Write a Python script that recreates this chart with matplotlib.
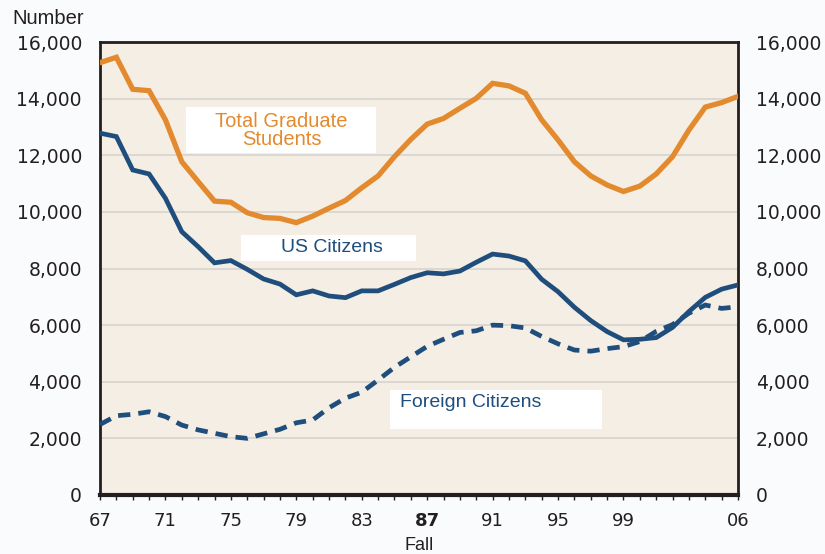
import matplotlib
matplotlib.use("Agg")
import matplotlib.pyplot as plt
from matplotlib.patches import Rectangle

# Fall enrollment, 1967-2006
years = list(range(1967, 2007))

total_students = [
    15270, 15460, 14330, 14280, 13250, 11770, 11070, 10380, 10340, 9970,
    9800, 9770, 9620, 9850, 10130, 10400, 10850, 11270, 11950, 12560,
    13100, 13300, 13660, 14010, 14540, 14450, 14190, 13250, 12540, 11770,
    11270, 10950, 10720, 10910, 11340, 11950, 12890, 13700, 13860, 14080,
]

us_citizens = [
    12780, 12660, 11480, 11340, 10480, 9300, 8770, 8200, 8280, 7970,
    7630, 7450, 7070, 7210, 7030, 6970, 7210, 7210, 7440, 7680,
    7850, 7810, 7910, 8220, 8510, 8440, 8270, 7620, 7180, 6630,
    6160, 5770, 5480, 5500, 5560, 5920, 6480, 6980, 7270, 7420,
]

foreign_citizens = [
    2490, 2800, 2850, 2940, 2770, 2470, 2300, 2180, 2060, 2000,
    2160, 2320, 2550, 2650, 3080, 3420, 3630, 4060, 4510, 4880,
    5250, 5500, 5740, 5800, 6000, 5980, 5900, 5600, 5340, 5120,
    5080, 5170, 5240, 5420, 5780, 6020, 6420, 6710, 6590, 6650,
]

label_years = [1967, 1971, 1975, 1979, 1983, 1987, 1991, 1995, 1999, 2006]
y_ticks = [0, 2000, 4000, 6000, 8000, 10000, 12000, 14000, 16000]

orange = "#E38A2E"
blue = "#1F4E7D"
ink = "#231F20"

plt.rcParams["font.family"] = ["Liberation Sans", "DejaVu Sans"]

fig = plt.figure(figsize=(8.25, 5.54), dpi=100, facecolor="#FAFBFD")
ax = fig.add_axes([100 / 825, 1 - 495 / 554, 638 / 825, 453 / 554])
ax.set_facecolor("#F5EEE4")

ax.set_xlim(years[0], years[-1])
ax.set_ylim(0, 16000)

for v in y_ticks[:-1]:
    ax.axhline(v, color="#D9D6D1", lw=1.3, zorder=1)

ax.plot(years, total_students, color=orange, lw=3.8, zorder=3,
        solid_joinstyle="miter")
ax.plot(years, us_citizens, color=blue, lw=3.4, zorder=3,
        solid_joinstyle="miter")
ax.plot(years, foreign_citizens, color=blue, lw=3.4, zorder=3,
        ls=(0, (2.6, 1.7)))

# series labels in white boxes
ax.add_patch(Rectangle((1972.25, 12080), 11.65, 1620, facecolor="white",
                       edgecolor="none", zorder=2))
ax.text(1978.1, 12870, "Total Graduate\nStudents", color=orange, fontsize=14.5,
        ha="center", va="center", multialignment="center",
        linespacing=0.95, zorder=4)

ax.add_patch(Rectangle((1975.6, 8270), 10.7, 910, facecolor="white",
                       edgecolor="none", zorder=2))
ax.text(1981.2, 8740, "US Citizens", color=blue, fontsize=14,
        ha="center", va="center", zorder=4)

ax.add_patch(Rectangle((1984.7, 2330), 13.0, 1380, facecolor="white",
                       edgecolor="none", zorder=2))
ax.text(1985.35, 3250, "Foreign Citizens", color=blue, fontsize=14,
        ha="left", va="center", zorder=4)

# x axis: tick every year, labels every four
ax.set_xticks(years)
ax.set_xticklabels([("%02d" % (y % 100)) if y in label_years else ""
                    for y in years], family="DejaVu Sans")
for lab in ax.get_xticklabels():
    if lab.get_text() == "87":
        lab.set_fontweight("bold")
ax.tick_params(axis="x", length=3.5, width=1, color=ink, pad=9,
               labelsize=13, labelcolor=ink)
ax.set_xlabel("Fall", fontsize=13, color=ink, labelpad=5)

# y axis labels on both sides
ax.set_yticks(y_ticks)
ax.set_yticklabels([f"{v:,}" for v in y_ticks], family="DejaVu Sans")
ax.tick_params(axis="y", length=0, labelsize=13.5, pad=13,
               labelleft=True, labelright=True, labelcolor=ink)

for side in ["left", "right", "top"]:
    ax.spines[side].set_linewidth(2)
    ax.spines[side].set_color(ink)
ax.spines["bottom"].set_linewidth(3)
ax.spines["bottom"].set_color(ink)

fig.text(12 / 825, 1 - 19 / 554, "Number", fontsize=14.5, color=ink,
         ha="left", va="center")

fig.savefig("out.png", dpi=100, facecolor=fig.get_facecolor())
